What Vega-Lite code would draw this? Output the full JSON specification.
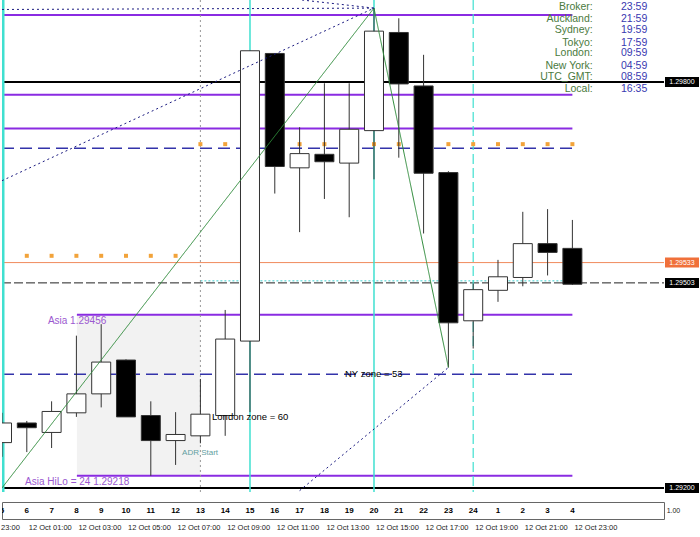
{
  "$schema": "https://vega.github.io/schema/vega-lite/v6.json",
  "padding": 0,
  "background": "white",
  "spacing": 8,
  "config": {"font": "Liberation Sans", "axis": {"grid": false, "title": null}, "view": {"stroke": null}, "scale": {"continuousPadding": 0}},
  "datasets": {
    "candles": [
      {"i":0,"n":"5","o":1.29267,"h":1.29311,"l":1.29246,"c":1.29296},
      {"i":1,"n":"6","o":1.29296,"h":1.29299,"l":1.29253,"c":1.29289},
      {"i":2,"n":"7","o":1.29282,"h":1.29328,"l":1.29259,"c":1.29313},
      {"i":3,"n":"8","o":1.29311,"h":1.29425,"l":1.29305,"c":1.29339},
      {"i":4,"n":"9","o":1.29339,"h":1.29442,"l":1.29319,"c":1.29386},
      {"i":5,"n":"10","o":1.29389,"h":1.29390,"l":1.29305,"c":1.29305},
      {"i":6,"n":"11","o":1.29307,"h":1.29328,"l":1.29218,"c":1.29270},
      {"i":7,"n":"12","o":1.29270,"h":1.29312,"l":1.29234,"c":1.29279},
      {"i":8,"n":"13","o":1.29277,"h":1.29361,"l":1.29266,"c":1.29309},
      {"i":9,"n":"14","o":1.29307,"h":1.29463,"l":1.29277,"c":1.29420},
      {"i":10,"n":"15","o":1.29417,"h":1.29846,"l":1.29312,"c":1.29846},
      {"i":11,"n":"16","o":1.29842,"h":1.29842,"l":1.29635,"c":1.29675},
      {"i":12,"n":"17","o":1.29673,"h":1.29733,"l":1.29578,"c":1.29694},
      {"i":13,"n":"18","o":1.29693,"h":1.29798,"l":1.29627,"c":1.29682},
      {"i":14,"n":"19","o":1.29680,"h":1.29798,"l":1.29600,"c":1.29730},
      {"i":15,"n":"20","o":1.29728,"h":1.29909,"l":1.29656,"c":1.29875},
      {"i":16,"n":"21","o":1.29873,"h":1.29894,"l":1.29688,"c":1.29797},
      {"i":17,"n":"22","o":1.29794,"h":1.29840,"l":1.29576,"c":1.29665},
      {"i":18,"n":"23","o":1.29666,"h":1.29668,"l":1.29378,"c":1.29444},
      {"i":19,"n":"24","o":1.29447,"h":1.29502,"l":1.29406,"c":1.29493},
      {"i":20,"n":"1","o":1.29492,"h":1.29537,"l":1.29475,"c":1.29512},
      {"i":21,"n":"2","o":1.29511,"h":1.29608,"l":1.29498,"c":1.29561},
      {"i":22,"n":"3","o":1.29561,"h":1.29612,"l":1.29514,"c":1.29548},
      {"i":23,"n":"4","o":1.29554,"h":1.29596,"l":1.29500,"c":1.29501}
    ],
    "zones": [{"x1":3.02,"x2":8,"p1":1.29218,"p2":1.29456}],
    "hlines": [
      {"x1":0,"x2":23,"p":1.29899,"k":"purple"},
      {"x1":0,"x2":23,"p":1.29781,"k":"purple"},
      {"x1":0,"x2":23,"p":1.29731,"k":"purple"},
      {"x1":3.02,"x2":23,"p":1.29456,"k":"purple"},
      {"x1":3.02,"x2":23,"p":1.29218,"k":"purple"},
      {"x1":0,"x2":23,"p":1.29702,"k":"bluedash"},
      {"x1":0,"x2":23,"p":1.29368,"k":"bluedash"},
      {"x1":0,"x2":26.7,"p":1.298,"k":"black"},
      {"x1":0,"x2":26.7,"p":1.292,"k":"black"},
      {"x1":0,"x2":26.7,"p":1.29533,"k":"orange"},
      {"x1":0,"x2":26.7,"p":1.29503,"k":"blackdash"},
      {"x1":8,"x2":22.6,"p":1.29506,"k":"cyandot"}
    ],
    "vlines": [
      {"x":0,"k":"cyanedge"},
      {"x":10,"k":"cyan"},
      {"x":15,"k":"cyan"},
      {"x":19,"k":"cyandash"},
      {"x":8,"k":"graydot"}
    ],
    "dots": [
      {"i":1,"p":1.29543},{"i":2,"p":1.29543},{"i":3,"p":1.29543},{"i":4,"p":1.29543},{"i":5,"p":1.29543},{"i":6,"p":1.29543},{"i":7,"p":1.29543},
      {"i":8,"p":1.29708},{"i":9,"p":1.29708},{"i":10,"p":1.29708},{"i":11,"p":1.29708},{"i":12,"p":1.29708},{"i":13,"p":1.29708},{"i":14,"p":1.29708},{"i":15,"p":1.29708},
      {"i":16,"p":1.29708},{"i":17,"p":1.29708},{"i":18,"p":1.29708},{"i":19,"p":1.29708},{"i":20,"p":1.29708},{"i":21,"p":1.29708},{"i":22,"p":1.29708},{"i":23,"p":1.29708}
    ],
    "segs": [
      {"s":"g","i":0,"p":1.292,"k":"green"},{"s":"g","i":15,"p":1.29909,"k":"green"},{"s":"g","i":18,"p":1.29378,"k":"green"},
      {"s":"d1","i":0,"p":1.29654,"k":"navydot"},{"s":"d1","i":15,"p":1.29909,"k":"navydot"},
      {"s":"d2","i":0,"p":1.29907,"k":"navydot"},{"s":"d2","i":15,"p":1.29909,"k":"navydot"},
      {"s":"d3","i":12.1,"p":1.29921,"k":"navydot"},{"s":"d3","i":15,"p":1.29909,"k":"navydot"},
      {"s":"d4","i":12,"p":1.29196,"k":"navydot"},{"s":"d4","i":18,"p":1.29378,"k":"navydot"}
    ],
    "textsL": [
      {"i":1.85,"p":1.29446,"t":"Asia 1.29456","k":"asia"},
      {"i":0.93,"p":1.29209,"t":"Asia HiLo = 24  1.29218","k":"asia"},
      {"i":7.26,"p":1.29252,"t":"ADR Start","k":"adr"},
      {"i":8.47,"p":1.29305,"t":"London zone = 60","k":"zone"},
      {"i":13.83,"p":1.29368,"t":"NY zone = 53","k":"zone"},
      {"i":24.96,"p":1.29911,"t":"23:59","k":"val"},
      {"i":24.96,"p":1.29893,"t":"21:59","k":"val"},
      {"i":24.96,"p":1.29876,"t":"19:59","k":"val"},
      {"i":24.96,"p":1.29858,"t":"17:59","k":"val"},
      {"i":24.96,"p":1.29842,"t":"09:59","k":"val"},
      {"i":24.96,"p":1.29824,"t":"04:59","k":"val"},
      {"i":24.96,"p":1.29807,"t":"08:59","k":"val"},
      {"i":24.96,"p":1.29790,"t":"16:35","k":"val"}
    ],
    "textsR": [
      {"i":23.82,"p":1.29911,"t":"Broker:"},
      {"i":23.82,"p":1.29893,"t":"Auckland:"},
      {"i":23.82,"p":1.29876,"t":"Sydney:"},
      {"i":23.82,"p":1.29858,"t":"Tokyo:"},
      {"i":23.82,"p":1.29842,"t":"London:"},
      {"i":23.82,"p":1.29824,"t":"New York:"},
      {"i":23.82,"p":1.29807,"t":"UTC_GMT:"},
      {"i":23.82,"p":1.29790,"t":"Local:"}
    ],
    "tags": [
      {"p":1.298,"t":"1.29800","k":"black"},
      {"p":1.29533,"t":"1.29533","k":"orange"},
      {"p":1.29503,"t":"1.29503","k":"black"},
      {"p":1.292,"t":"1.29200","k":"black"}
    ],
    "times": [
      {"i":1,"t":"12 Oct 01:00"},{"i":3,"t":"12 Oct 03:00"},{"i":5,"t":"12 Oct 05:00"},{"i":7,"t":"12 Oct 07:00"},
      {"i":9,"t":"12 Oct 09:00"},{"i":11,"t":"12 Oct 11:00"},{"i":13,"t":"12 Oct 13:00"},{"i":15,"t":"12 Oct 15:00"},
      {"i":17,"t":"12 Oct 17:00"},{"i":19,"t":"12 Oct 19:00"},{"i":21,"t":"12 Oct 21:00"},{"i":23,"t":"12 Oct 23:00"}
    ]
  },
  "vconcat": [
    {
      "width": 662,
      "height": 492,
      "view": {"stroke": null},
      "resolve": {"scale": {"color": "independent", "strokeDash": "independent"}},
      "layer": [
        {
          "data": {"name": "zones"},
          "mark": {"type": "rect", "fill": "#f2f2f2"},
          "encoding": {
            "x": {"field": "x1", "type": "quantitative", "scale": {"domain": [0, 26.694], "nice": false, "zero": false, "padding": 0},
                  "axis": {"labels": false, "ticks": false, "domain": true, "domainColor": "#000", "grid": false, "title": null}},
            "x2": {"field": "x2"},
            "y": {"field": "p1", "type": "quantitative", "scale": {"domain": [1.29194, 1.29921], "nice": false, "zero": false, "padding": 0},
                  "axis": {"orient": "right", "values": [1.29915,1.29875,1.29835,1.29795,1.29755,1.29715,1.29675,1.29635,1.29595,1.29555,1.29515,1.29475,1.29435,1.29395,1.29355,1.29315,1.29275,1.29235,1.29195],
                           "format": ".5f", "labelFontSize": 7, "labelColor": "#000", "tickSize": 3, "tickColor": "#000", "labelPadding": 2,
                           "domain": true, "domainColor": "#000", "grid": false, "title": null, "labelOverlap": false, "labelFlush": false}},
            "y2": {"field": "p2"}
          }
        },
        {
          "data": {"name": "hlines"},
          "mark": {"type": "rule", "clip": true},
          "encoding": {
            "x": {"field": "x1", "type": "quantitative", "axis": null},
            "x2": {"field": "x2"},
            "y": {"field": "p", "type": "quantitative", "axis": null},
            "color": {"field": "k", "type": "nominal", "legend": null,
                      "scale": {"domain": ["purple","bluedash","black","orange","blackdash","cyandot"], "range": ["#8a2be2","#3333aa","#000000","#f08a5d","#222222","#40d0d0"]}},
            "strokeDash": {"field": "k", "type": "nominal", "legend": null,
                      "scale": {"domain": ["purple","bluedash","black","orange","blackdash","cyandot"], "range": [[1,0],[12,6],[1,0],[1,0],[9,3],[2,2]]}},
            "strokeWidth": {"condition": [{"test": "datum.k === 'purple' || datum.k === 'black'", "value": 2}, {"test": "datum.k === 'bluedash'", "value": 1.5}], "value": 1}
          }
        },
        {
          "data": {"name": "vlines"},
          "mark": {"type": "rule", "clip": true},
          "encoding": {
            "x": {"field": "x", "type": "quantitative", "axis": null},
            "color": {"field": "k", "type": "nominal", "legend": null,
                      "scale": {"domain": ["cyanedge","cyan","cyandash","graydot"], "range": ["#40e0d0","#40e0d0","#40e0d0","#999999"]}},
            "strokeDash": {"field": "k", "type": "nominal", "legend": null,
                      "scale": {"domain": ["cyanedge","cyan","cyandash","graydot"], "range": [[1,0],[1,0],[10,4],[2,3]]}},
            "strokeWidth": {"condition": [{"test": "datum.k === 'cyanedge'", "value": 5}, {"test": "datum.k === 'cyan'", "value": 1.5}, {"test": "datum.k === 'cyandash'", "value": 1.2}], "value": 1}
          }
        },
        {
          "data": {"name": "dots"},
          "mark": {"type": "square", "size": 16, "color": "#f2a33a", "opacity": 1, "filled": true},
          "encoding": {
            "x": {"field": "i", "type": "quantitative", "axis": null},
            "y": {"field": "p", "type": "quantitative", "axis": null}
          }
        },
        {
          "data": {"name": "candles"},
          "mark": {"type": "rule", "color": "#333333", "strokeWidth": 1, "clip": true},
          "encoding": {
            "x": {"field": "i", "type": "quantitative", "axis": null},
            "y": {"field": "l", "type": "quantitative", "axis": null},
            "y2": {"field": "h"}
          }
        },
        {
          "data": {"name": "candles"},
          "mark": {"type": "bar", "width": 19, "strokeWidth": 1, "stroke": "#333333", "clip": true},
          "encoding": {
            "x": {"field": "i", "type": "quantitative", "axis": null},
            "y": {"field": "o", "type": "quantitative", "axis": null},
            "y2": {"field": "c"},
            "fill": {"condition": {"test": "datum.c > datum.o", "value": "#ffffff"}, "value": "#000000"}
          }
        },
        {
          "data": {"name": "segs"},
          "mark": {"type": "line", "clip": true, "strokeWidth": 1},
          "encoding": {
            "x": {"field": "i", "type": "quantitative", "axis": null},
            "y": {"field": "p", "type": "quantitative", "axis": null},
            "detail": {"field": "s"},
            "color": {"field": "k", "type": "nominal", "legend": null,
                      "scale": {"domain": ["green","navydot"], "range": ["#2e8b3a","#1a1a80"]}},
            "strokeDash": {"field": "k", "type": "nominal", "legend": null,
                      "scale": {"domain": ["green","navydot"], "range": [[1,0],[2,3]]}}
          }
        },
        {
          "data": {"name": "textsL"},
          "mark": {"type": "text", "align": "left", "baseline": "middle"},
          "encoding": {
            "x": {"field": "i", "type": "quantitative", "axis": null},
            "y": {"field": "p", "type": "quantitative", "axis": null},
            "text": {"field": "t"},
            "color": {"field": "k", "type": "nominal", "legend": null,
                      "scale": {"domain": ["asia","adr","zone","val"], "range": ["#9b59d0","#5f9ea0","#000000","#3838b0"]}},
            "size": {"condition": [{"test": "datum.k === 'asia'", "value": 10}, {"test": "datum.k === 'adr'", "value": 8}, {"test": "datum.k === 'zone'", "value": 9.5}], "value": 10.5}
          }
        },
        {
          "data": {"name": "textsR"},
          "mark": {"type": "text", "align": "right", "baseline": "middle", "fontSize": 10.5, "color": "#4a7a40"},
          "encoding": {
            "x": {"field": "i", "type": "quantitative", "axis": null},
            "y": {"field": "p", "type": "quantitative", "axis": null},
            "text": {"field": "t"}
          }
        },
        {
          "data": {"name": "tags"},
          "mark": {"type": "tick", "orient": "horizontal", "size": 34, "thickness": 10, "opacity": 1},
          "encoding": {
            "x": {"datum": 27.42, "type": "quantitative", "axis": null},
            "y": {"field": "p", "type": "quantitative", "axis": null},
            "color": {"field": "k", "type": "nominal", "legend": null,
                      "scale": {"domain": ["black","orange"], "range": ["#000000","#f0703a"]}}
          }
        },
        {
          "data": {"name": "tags"},
          "mark": {"type": "text", "fontSize": 7, "color": "#ffffff", "align": "center", "baseline": "middle"},
          "encoding": {
            "x": {"datum": 27.42, "type": "quantitative", "axis": null},
            "y": {"field": "p", "type": "quantitative", "axis": null},
            "text": {"field": "t"}
          }
        }
      ]
    },
    {
      "width": 662,
      "height": 17,
      "view": {"stroke": "#666666"},
      "layer": [
        {
          "data": {"name": "candles"},
          "mark": {"type": "text", "fontWeight": "bold", "fontSize": 8, "clip": true, "baseline": "middle", "color": "#000"},
          "encoding": {
            "x": {"field": "i", "type": "quantitative", "scale": {"domain": [0, 26.694], "nice": false, "zero": false, "padding": 0},
                  "axis": {"values": [1,3,5,7,9,11,13,15,17,19,21,23], "labels": false, "ticks": true, "tickSize": 3, "tickColor": "#333", "domain": false, "grid": false, "title": null}},
            "y": {"datum": 0.5, "type": "quantitative", "scale": {"domain": [0, 1]}, "axis": null},
            "text": {"field": "n"}
          }
        },
        {
          "data": {"name": "times"},
          "mark": {"type": "text", "align": "left", "baseline": "middle", "dx": 2, "dy": 9, "fontSize": 7.5, "color": "#222"},
          "encoding": {
            "x": {"field": "i", "type": "quantitative", "axis": null},
            "y": {"datum": 0, "type": "quantitative", "axis": null},
            "text": {"field": "t"}
          }
        },
        {
          "data": {"values": [{"i": 0.72, "t": "23:00"}]},
          "mark": {"type": "text", "align": "right", "baseline": "middle", "dy": 9, "fontSize": 7.5, "color": "#222"},
          "encoding": {
            "x": {"field": "i", "type": "quantitative", "axis": null},
            "y": {"datum": 0, "type": "quantitative", "axis": null},
            "text": {"field": "t"}
          }
        },
        {
          "data": {"values": [{"i": 26.8, "t": "1.00"}]},
          "mark": {"type": "text", "align": "left", "baseline": "middle", "fontSize": 7, "color": "#222"},
          "encoding": {
            "x": {"field": "i", "type": "quantitative", "axis": null},
            "y": {"datum": 0.5, "type": "quantitative", "axis": null},
            "text": {"field": "t"}
          }
        }
      ]
    }
  ]
}
